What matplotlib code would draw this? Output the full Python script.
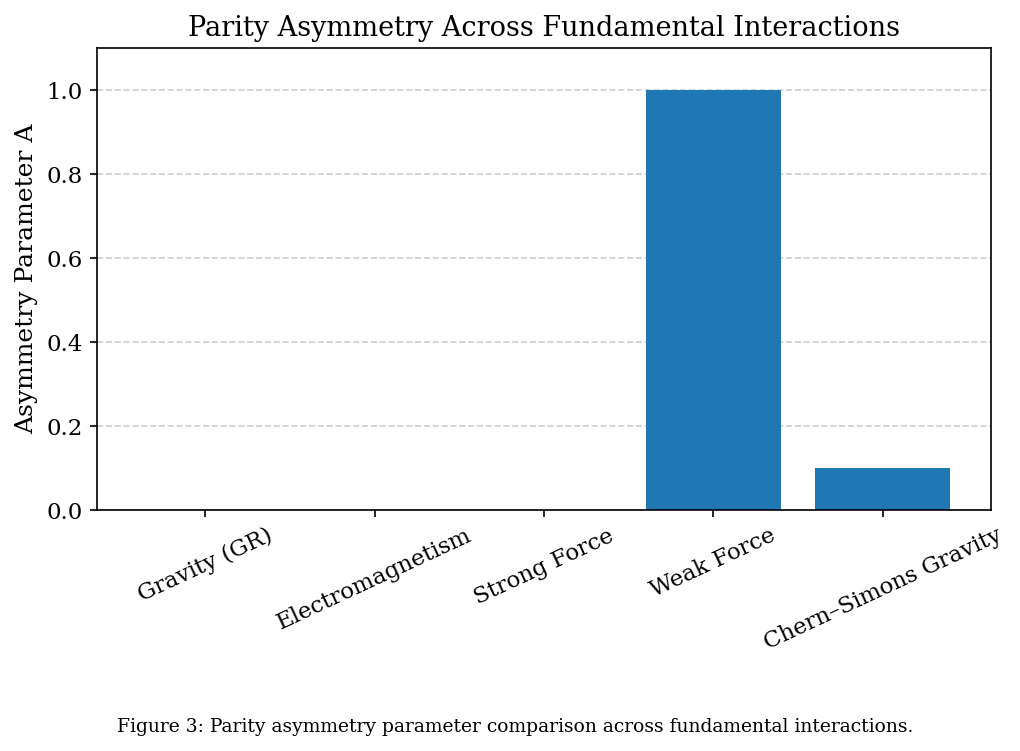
import matplotlib.pyplot as plt

plt.rcParams['font.family'] = 'DejaVu Serif'

interactions = ['Gravity (GR)', 'Electromagnetism', 'Strong Force', 'Weak Force', 'Chern–Simons Gravity']
asymmetry = [0.0, 0.0, 0.0, 1.0, 0.1]

fig = plt.figure(figsize=(6.8, 5.0067), dpi=150)
ax = fig.add_axes([97 / 1020, 1 - 510 / 751, (991 - 97) / 1020, (510 - 48) / 751])

ax.bar(interactions, asymmetry, color='#1f77b4')
ax.set_ylim(0, 1.1)
ax.set_ylabel('Asymmetry Parameter A', fontsize=12)
ax.set_title('Parity Asymmetry Across Fundamental Interactions', fontsize=13)
ax.tick_params(axis='both', labelsize=11)
plt.setp(ax.get_xticklabels(), rotation=25)
ax.yaxis.grid(True, linestyle='--', alpha=0.6)
ax.set_axisbelow(True)

fig.text(0.505, 0.025, 'Figure 3: Parity asymmetry parameter comparison across fundamental interactions.',
         ha='center', fontsize=9)

fig.savefig('out.png', dpi=150)
